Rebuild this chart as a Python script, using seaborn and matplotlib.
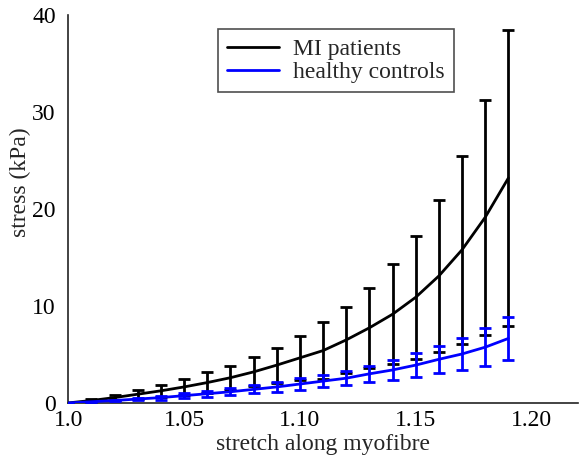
import numpy as np
import pandas as pd
import matplotlib
matplotlib.use("Agg")
import matplotlib.pyplot as plt
import seaborn as sns

# ========== data ==========
stretch = [1.00, 1.01, 1.02, 1.03, 1.04, 1.05, 1.06, 1.07, 1.08, 1.09,
           1.10, 1.11, 1.12, 1.13, 1.14, 1.15, 1.16, 1.17, 1.18, 1.19]

mi_mean = [0.0, 0.25, 0.55, 0.9, 1.25, 1.65, 2.1, 2.6, 3.2, 3.9,
           4.65, 5.4, 6.5, 7.75, 9.15, 10.9, 13.1, 15.8, 19.15, 23.2]
mi_err = [0.0, 0.15, 0.25, 0.45, 0.6, 0.8, 1.05, 1.25, 1.5, 1.8,
          2.25, 2.9, 3.4, 4.15, 5.15, 6.35, 7.8, 9.7, 12.1, 15.3]

hc_mean = [0.0, 0.12, 0.25, 0.4, 0.55, 0.75, 0.95, 1.15, 1.4, 1.65,
           1.95, 2.25, 2.55, 3.0, 3.4, 3.9, 4.5, 5.05, 5.75, 6.65]
hc_err = [0.0, 0.05, 0.1, 0.15, 0.2, 0.25, 0.3, 0.35, 0.4, 0.5,
          0.6, 0.65, 0.75, 0.83, 1.05, 1.2, 1.4, 1.65, 1.95, 2.25]

groups = ["MI patients", "healthy controls"]
colours = ["black", "#0000ff"]

df = pd.DataFrame({
    "stretch": stretch * 2,
    "stress": mi_mean + hc_mean,
    "group": [groups[0]] * len(stretch) + [groups[1]] * len(stretch),
})

# ========== plot ==========
sns.set_style("white")
plt.rcParams["font.family"] = ["Liberation Serif", "DejaVu Serif"]

fig = plt.figure(figsize=(5.79, 4.61), dpi=100)
ax = fig.add_axes([0.118, 0.126, 0.880, 0.841])

ax.errorbar(stretch, mi_mean, yerr=mi_err, fmt="none", ecolor=colours[0],
            elinewidth=2, capsize=4.5, capthick=2, zorder=2)
ax.errorbar(stretch, hc_mean, yerr=hc_err, fmt="none", ecolor=colours[1],
            elinewidth=2, capsize=4.5, capthick=2, zorder=3)
sns.lineplot(data=df, x="stretch", y="stress", hue="group", hue_order=groups,
             palette=colours, linewidth=2, ax=ax, zorder=4)

ax.set_xlim(1.0, 1.22)
ax.set_ylim(0, 40)
ax.set_xticks([1.0, 1.05, 1.10, 1.15, 1.20])
ax.set_xticklabels(["1.0", "1.05", "1.10", "1.15", "1.20"])
ax.set_yticks([0, 10, 20, 30, 40])
ax.tick_params(direction="in", length=4, width=1, labelsize=17,
               colors="#222222", labelcolor="black")
ax.tick_params(axis="x", pad=5)
ax.tick_params(axis="y", pad=9)
for s in ["top", "right"]:
    ax.spines[s].set_visible(False)
for s in ["left", "bottom"]:
    ax.spines[s].set_color("#222222")
    ax.spines[s].set_linewidth(1.2)

ax.set_xlabel("stretch along myofibre", fontsize=17, labelpad=2)
ax.set_ylabel("stress (kPa)", fontsize=17, va="center")
ax.yaxis.set_label_coords(-0.094, 0.57)

leg = ax.legend(loc="upper left", bbox_to_anchor=(0.293, 0.964), borderaxespad=0,
                fontsize=17, frameon=True, fancybox=False, edgecolor="#222222",
                handlelength=2.2, handletextpad=0.6, borderpad=0.4,
                labelspacing=0.05, title=None)
leg.get_frame().set_linewidth(1.2)

fig.savefig("out.png", dpi=100)
